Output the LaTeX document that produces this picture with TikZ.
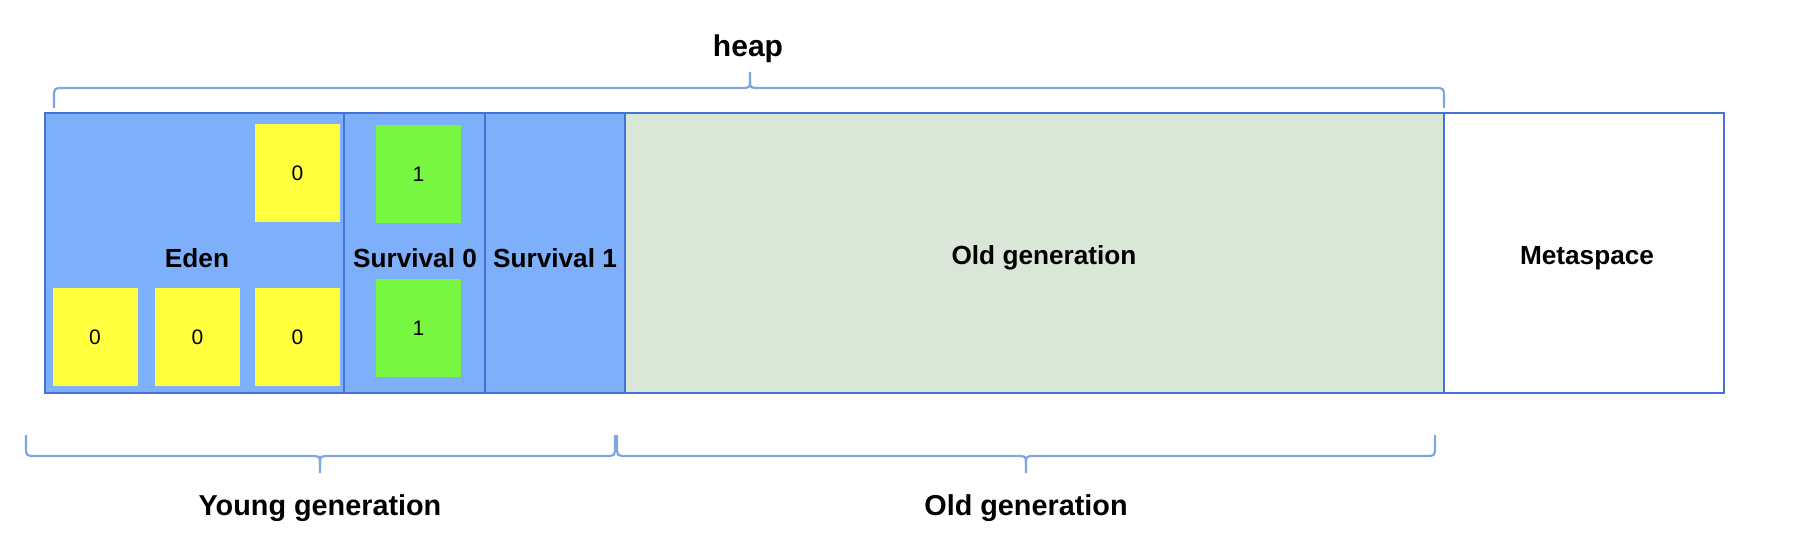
\documentclass[tikz,border=0pt]{standalone}
\usepackage{fontspec}
\setmainfont{Liberation Sans}
\definecolor{bluefill}{HTML}{7EAFFA}
\definecolor{bordc}{HTML}{4472D6}
\definecolor{oldfill}{HTML}{D9E7D6}
\definecolor{yel}{HTML}{FFFF3D}
\definecolor{grn}{HTML}{77F73F}
\definecolor{bracec}{HTML}{7EA6E0}
\begin{document}
\begin{tikzpicture}[x=0.5pt,y=-0.5pt,
  region/.style={draw=bordc, line width=1pt, minimum height=140pt, inner sep=0pt},
  boxlabel/.style={inner sep=0pt, font=\fontsize{13.1}{15}\selectfont\bfseries},
  cell/.style={draw=none, minimum width=42.5pt, minimum height=49pt, inner sep=0pt,
    font=\fontsize{10.5}{12}\selectfont},
  bracestyle/.style={draw=bracec, line width=1.1pt},
  biglabel/.style={font=\fontsize{14.4}{16}\selectfont\bfseries, inner sep=0pt}]
\useasboundingbox (0,0) rectangle (1812,556);
% regions
\node[region, fill=bluefill, minimum width=149.5pt] (eden) at (194.5,253) {};
\node[region, fill=bluefill, minimum width=70.5pt] (s0) at (414.5,253) {};
\node[region, fill=bluefill, minimum width=70pt] (s1) at (555,253) {};
\node[region, fill=oldfill, minimum width=409.5pt] (old) at (1034.5,253) {};
\node[region, fill=white, minimum width=140pt] (meta) at (1584,253) {};
% objects
\node[cell, fill=yel] (y1) at (297.5,173) {0};
\node[cell, fill=yel] (y2) at (95,337) {0};
\node[cell, fill=yel] (y3) at (197.5,337) {0};
\node[cell, fill=yel] (y4) at (297.5,337) {0};
\node[cell, fill=grn] (g1) at (418.5,174) {1};
\node[cell, fill=grn] (g2) at (418.5,328) {1};
% region labels
\node[boxlabel] (edenlab) at (197,258) {Eden};
\node[boxlabel] (s0lab) at (415,258) {Survival 0};
\node[boxlabel] (s1lab) at (555,258) {Survival 1};
\node[boxlabel] (oldin) at (1044,258) {Old generation};
\node[boxlabel] (metalab) at (1587,258) {Metaspace};
% heap brace
\draw[bracestyle] (54,108) -- (54,98) .. controls (54,88) .. (64,88) -- (740,88)
  .. controls (750,88) .. (750,80) -- (750,72);
\draw[bracestyle] (750,80) .. controls (750,88) .. (760,88) -- (1434,88)
  .. controls (1444,88) .. (1444,98) -- (1444,108);
\node[font=\fontsize{15}{17}\selectfont\bfseries, inner sep=0pt] (heap) at (748,49) {heap};
% young brace
\draw[bracestyle] (26,435) -- (26,446) .. controls (26,456) .. (36,456) -- (310,456)
  .. controls (320,456) .. (320,464) -- (320,473);
\draw[bracestyle] (320,464) .. controls (320,456) .. (330,456) -- (605,456)
  .. controls (615,456) .. (615,446) -- (615,435);
\node[biglabel] (young) at (320,508) {Young generation};
% old brace
\draw[bracestyle] (617,435) -- (617,446) .. controls (617,456) .. (627,456) -- (1016,456)
  .. controls (1026,456) .. (1026,464) -- (1026,473);
\draw[bracestyle] (1026,464) .. controls (1026,456) .. (1036,456) -- (1425,456)
  .. controls (1435,456) .. (1435,446) -- (1435,435);
\node[biglabel] (oldlab) at (1026,508) {Old generation};
\end{tikzpicture}
\end{document}
